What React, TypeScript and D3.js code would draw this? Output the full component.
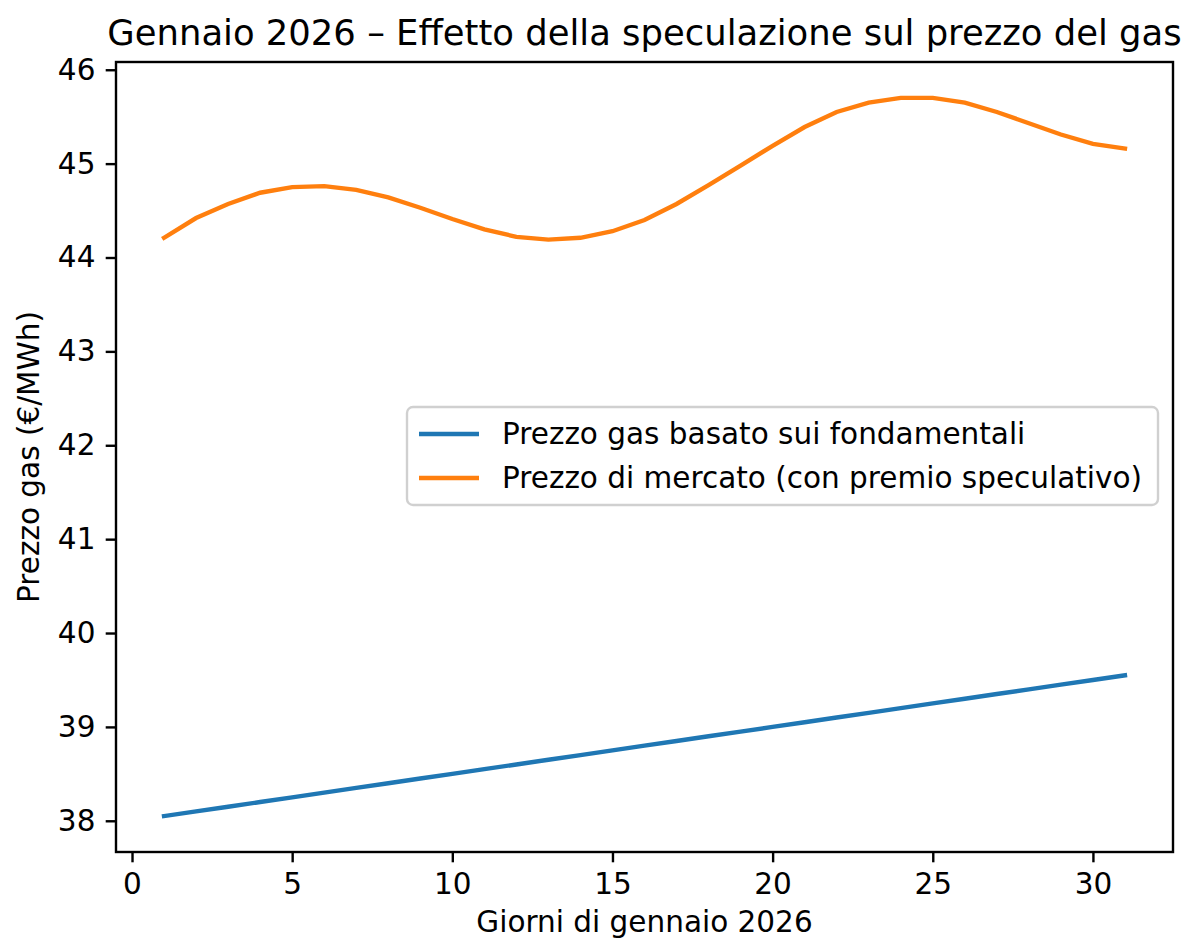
import React, { useEffect, useRef } from "react";
import * as d3 from "d3";

const days = [1, 2, 3, 4, 5, 6, 7, 8, 9, 10, 11, 12, 13, 14, 15, 16, 17, 18, 19, 20, 21, 22, 23, 24, 25, 26, 27, 28, 29, 30, 31];

const fundamentalPrice = [
  38.05, 38.1, 38.15, 38.2, 38.25, 38.3, 38.35, 38.4, 38.45, 38.5, 38.55, 38.6, 38.65, 38.7, 38.75, 38.8,
  38.85, 38.9, 38.95, 39.0, 39.05, 39.1, 39.15, 39.2, 39.25, 39.3, 39.35, 39.4, 39.45, 39.5, 39.55
];

const marketPrice = [
  44.21, 44.42, 44.57, 44.69, 44.75, 44.76, 44.72, 44.64, 44.53, 44.41, 44.3, 44.22, 44.19, 44.21, 44.28, 44.4,
  44.57, 44.77, 44.98, 45.19, 45.39, 45.55, 45.65, 45.7, 45.7, 45.65, 45.55, 45.43, 45.31, 45.21, 45.16
];

const seriesNames = [
  "Prezzo gas basato sui fondamentali",
  "Prezzo di mercato (con premio speculativo)"
];
const seriesColors = ["#1f77b4", "#ff7f0e"];

const xTicks = [0, 5, 10, 15, 20, 25, 30];
const yTicks = [38, 39, 40, 41, 42, 43, 44, 45, 46];

const title = "Gennaio 2026 – Effetto della speculazione sul prezzo del gas";
const xLabel = "Giorni di gennaio 2026";
const yLabel = "Prezzo gas (€/MWh)";

const width = 1190;
const height = 940;
const margin = { left: 116, right: 1173, top: 62, bottom: 852 };
const font = "DejaVu Sans";
const fs = 29.5;

const App = () => {
  const chart = useRef<SVGSVGElement>(null);

  useEffect(() => {
    const svg = d3.select(chart.current);
    svg.selectAll("*").remove();

    const xPad = (d3.max(days)! - d3.min(days)!) * 0.05;
    const x = d3
      .scaleLinear()
      .domain([d3.min(days)! - xPad, d3.max(days)! + xPad])
      .range([margin.left, margin.right]);

    const all = fundamentalPrice.concat(marketPrice);
    const lo = d3.min(all)!;
    const hi = d3.max(all)!;
    const yPad = (hi - lo) * 0.05;
    const y = d3
      .scaleLinear()
      .domain([lo - yPad, hi + yPad])
      .range([margin.bottom, margin.top]);

    const line = d3
      .line<number>()
      .x((d, i) => x(days[i]))
      .y(d => y(d));

    // lines
    [fundamentalPrice, marketPrice].forEach((s, k) => {
      svg
        .append("path")
        .attr("d", line(s))
        .attr("fill", "none")
        .attr("stroke", seriesColors[k])
        .attr("stroke-width", 4.4)
        .attr("stroke-linecap", "square");
    });

    // axes
    const xAxis = svg
      .append("g")
      .attr("transform", `translate(0,${margin.bottom})`)
      .call(
        d3.axisBottom(x).tickValues(xTicks).tickSize(10.3).tickPadding(10.3).tickSizeOuter(0)
      );
    const yAxis = svg
      .append("g")
      .attr("transform", `translate(${margin.left},0)`)
      .call(
        d3.axisLeft(y).tickValues(yTicks).tickSize(10.3).tickPadding(10.3).tickSizeOuter(0)
      );
    [xAxis, yAxis].forEach(a => {
      a.select(".domain").remove();
      a.selectAll("line").attr("stroke", "#000").attr("stroke-width", 2.4);
      a.selectAll("text")
        .attr("fill", "#000")
        .attr("font-family", font)
        .attr("font-size", fs);
    });

    // spines
    svg
      .append("rect")
      .attr("x", margin.left)
      .attr("y", margin.top)
      .attr("width", margin.right - margin.left)
      .attr("height", margin.bottom - margin.top)
      .attr("fill", "none")
      .attr("stroke", "#000")
      .attr("stroke-width", 2.4);

    // title and labels
    const cx = (margin.left + margin.right) / 2;
    svg
      .append("text")
      .attr("x", cx)
      .attr("y", 45)
      .attr("text-anchor", "middle")
      .attr("font-family", font)
      .attr("font-size", 35.4)
      .text(title);

    svg
      .append("text")
      .attr("x", cx)
      .attr("y", 932)
      .attr("text-anchor", "middle")
      .attr("font-family", font)
      .attr("font-size", fs)
      .text(xLabel);

    svg
      .append("text")
      .attr("transform", `translate(39,${(margin.top + margin.bottom) / 2}) rotate(-90)`)
      .attr("text-anchor", "middle")
      .attr("font-family", font)
      .attr("font-size", fs)
      .text(yLabel);

    // legend
    const lg = svg.append("g");
    lg.append("rect")
      .attr("x", 407)
      .attr("y", 407)
      .attr("width", 751)
      .attr("height", 98)
      .attr("rx", 6)
      .attr("fill", "#fff")
      .attr("fill-opacity", 0.8)
      .attr("stroke", "#d0d0d0")
      .attr("stroke-width", 2.4);
    seriesNames.forEach((name, k) => {
      const yy = 434 + k * 44;
      lg.append("line")
        .attr("x1", 419)
        .attr("x2", 479)
        .attr("y1", yy)
        .attr("y2", yy)
        .attr("stroke", seriesColors[k])
        .attr("stroke-width", 4.4);
      lg.append("text")
        .attr("x", 502)
        .attr("y", yy)
        .attr("dy", "0.35em")
        .attr("font-family", font)
        .attr("font-size", fs)
        .text(name);
    });
  }, []);

  return (
    <svg
      ref={chart}
      width={width}
      height={height}
      viewBox={`0 0 ${width} ${height}`}
      style={{ position: "absolute", left: 0, top: 0, background: "#fff" }}
    ></svg>
  );
};

export default App;
